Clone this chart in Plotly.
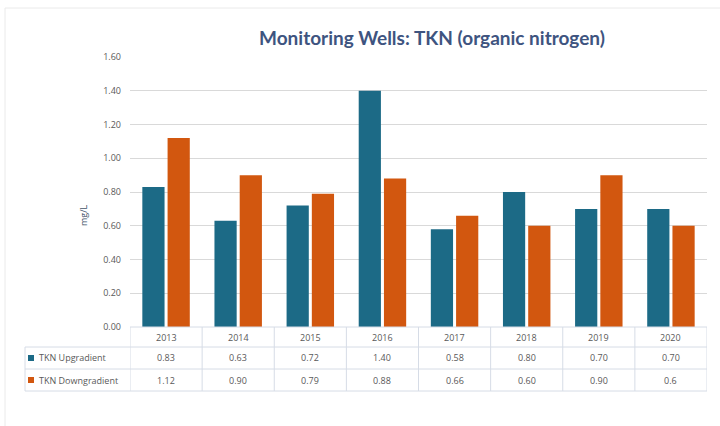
import plotly.graph_objects as go

# data
years = ["2013", "2014", "2015", "2016", "2017", "2018", "2019", "2020"]
upgradient = [0.83, 0.63, 0.72, 1.40, 0.58, 0.80, 0.70, 0.70]
downgradient = [1.12, 0.90, 0.79, 0.88, 0.66, 0.60, 0.90, 0.60]
up_labels = ["0.83", "0.63", "0.72", "1.40", "0.58", "0.80", "0.70", "0.70"]
down_labels = ["1.12", "0.90", "0.79", "0.88", "0.66", "0.60", "0.90", "0.6"]
series_names = ["TKN Upgradient", "TKN Downgradient"]
y_ticks = [0, 0.2, 0.4, 0.6, 0.8, 1.0, 1.2, 1.4, 1.6]

colors = ["#1C6A86", "#D2570F"]
text_color = "#595959"
table_line = "#D6DCE6"
font_family = "Open Sans, Lato, sans-serif"

W, H = 720, 426
L, R, T, B = 130, 13, 57, 99
plot_h = H - T - B
plot_w = W - L - R


def py(pixel_y):
    # pixel row -> paper y
    return (H - B - pixel_y) / plot_h


def px(pixel_x):
    return (pixel_x - L) / plot_w


fig = go.Figure()
for name, vals, color in zip(series_names, [upgradient, downgradient], colors):
    fig.add_trace(go.Bar(
        x=years, y=vals, name=name,
        marker=dict(color=color, line=dict(width=0)),
        showlegend=False,
    ))

# data table under the chart
row_y = [py(337), py(358), py(380)]
line_y = [py(327), py(347), py(369), py(391)]
left_edge = px(25)

# faint chart-area frame
shapes = [dict(type="rect", xref="paper", yref="paper",
               x0=px(5), x1=px(730), y0=py(8), y1=py(436),
               line=dict(color="#EAEAEA", width=1), layer="below")]
# horizontal lines
for i, ly in enumerate(line_y):
    x0 = px(L) if i == 0 else left_edge
    shapes.append(dict(type="line", xref="paper", yref="paper", x0=x0, x1=1,
                       y0=ly, y1=ly, line=dict(color=table_line, width=1)))
# vertical lines between categories
for i in range(len(years) + 1):
    shapes.append(dict(type="line", xref="x", yref="paper", x0=i - 0.5, x1=i - 0.5,
                       y0=line_y[0], y1=line_y[-1], line=dict(color=table_line, width=1)))
shapes.append(dict(type="line", xref="paper", yref="paper", x0=left_edge, x1=left_edge,
                   y0=line_y[1], y1=line_y[-1], line=dict(color=table_line, width=1)))

annotations = []
cell_font = dict(size=9, color=text_color)
for i, yr in enumerate(years):
    for text, ry in zip([yr, up_labels[i], down_labels[i]], row_y):
        annotations.append(dict(x=i, y=ry, xref="x", yref="paper", text=text,
                                xanchor="center", yanchor="middle",
                                showarrow=False, font=cell_font))

# legend keys in the table
for name, color, ry in zip(series_names, colors, row_y[1:]):
    shapes.append(dict(type="rect", xref="paper", yref="paper",
                       x0=px(28), x1=px(34), y0=ry - 3 / plot_h, y1=ry + 3 / plot_h,
                       fillcolor=color, line=dict(width=0)))
    annotations.append(dict(x=px(37), y=ry, xref="paper", yref="paper", text=name,
                            xanchor="left", yanchor="middle", showarrow=False,
                            font=cell_font))

annotations.append(dict(x=px(83), y=py(215), xref="paper", yref="paper", text="mg/L",
                        textangle=-90, xanchor="center", yanchor="middle", showarrow=False,
                        font=dict(size=9, color="#44546A")))

fig.update_layout(
    width=W, height=H,
    margin=dict(l=L, r=R, t=T, b=B),
    paper_bgcolor="white", plot_bgcolor="white",
    font=dict(family=font_family, color=text_color, size=9),
    title=dict(text="<b>Monitoring Wells: TKN (organic nitrogen)</b>",
               x=432 / W, xanchor="center", y=1 - 38 / H, yanchor="middle",
               font=dict(size=19, color="#3E5480", family="Lato, Open Sans, sans-serif")),
    barmode="group", bargap=0.3, bargroupgap=0.12,
    shapes=shapes, annotations=annotations,
)
fig.update_xaxes(type="category", range=[-0.5, len(years) - 0.5],
                 showticklabels=False, showgrid=False, showline=False, ticks="")
fig.update_yaxes(range=[0, 1.6], tickvals=y_ticks, tickformat=".2f",
                 showgrid=True, gridcolor="#D9D9D9", gridwidth=1, zeroline=False,
                 showline=False, ticks="", ticklabelstandoff=8,
                 tickfont=dict(size=9, color=text_color))

# drop the browser's default body margin so the figure sits at the page corner
fig.write_html("out.html", config={"displayModeBar": False},
               post_script="document.body.style.margin='0';")
